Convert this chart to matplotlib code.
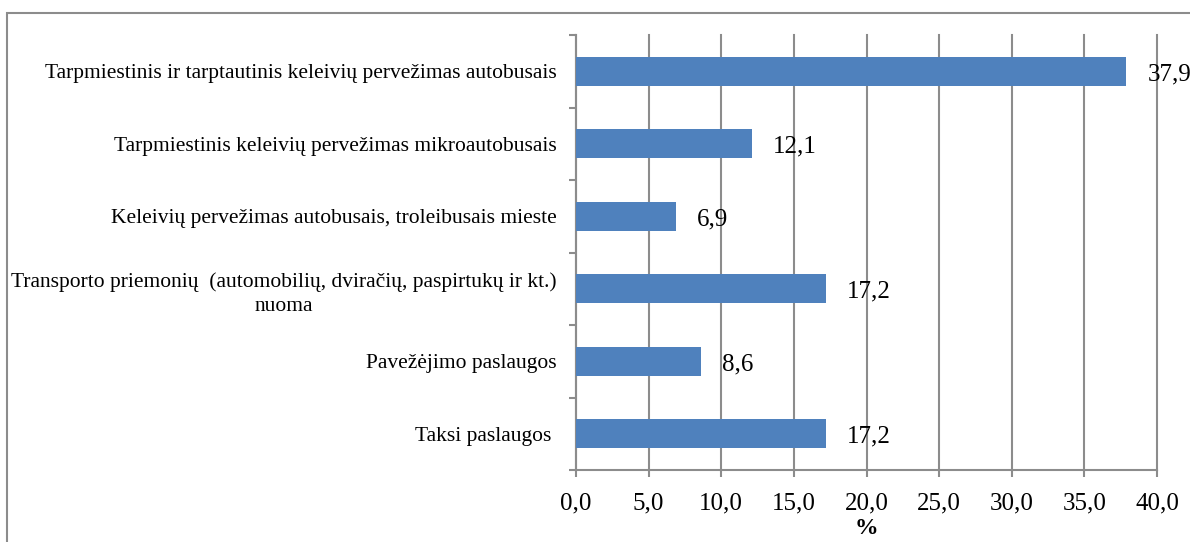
import numpy as np
import matplotlib.pyplot as plt
from matplotlib.patches import Rectangle

kategorijos = [
    "Tarpmiestinis ir tarptautinis keleivių pervežimas autobusais",
    "Tarpmiestinis keleivių pervežimas mikroautobusais",
    "Keleivių pervežimas autobusais, troleibusais mieste",
    "Transporto priemonių  (automobilių, dviračių, paspirtukų ir kt.)\nnuoma",
    "Pavežėjimo paslaugos",
    "Taksi paslaugos ",
]
reiksmes = [37.9, 12.1, 6.9, 17.2, 8.6, 17.2]
x_zymes = np.arange(0, 45, 5)

plt.rcParams['font.family'] = ['Liberation Serif', 'DejaVu Serif']

fig = plt.figure(figsize=(11.9, 5.42), dpi=100)
ax = fig.add_axes([576/1190, 1-470/542, (1157-576)/1190, (470-35)/542])

# remelis aplink diagrama
fig.patches.append(Rectangle((7/1190, -0.1), 1.2, (542-13)/542 + 0.1,
                             transform=fig.transFigure, fill=False,
                             edgecolor='#8c8c8c', linewidth=1.5, zorder=0))

y = np.arange(len(kategorijos))[::-1]
ax.barh(y, reiksmes, height=0.4, color='#4F81BD', zorder=3)

for yi, v in zip(y, reiksmes):
    ax.annotate(f"{v:.1f}".replace('.', ','), (v, yi), xytext=(15, -2),
                textcoords='offset points', va='center', ha='left', fontsize=18)

ax.set_xlim(0, 40)
ax.set_ylim(-0.5, len(kategorijos) - 0.5)
ax.set_xticks(x_zymes)
ax.set_xticklabels([f"{v:.1f}".replace('.', ',') for v in x_zymes], fontsize=18)
ax.set_yticks(y)
ax.set_yticklabels(kategorijos, fontsize=15.5, multialignment='center',
                   linespacing=1.35)
ax.set_yticks(np.arange(-0.5, len(kategorijos)), minor=True)
ax.tick_params(axis='y', which='major', length=0, pad=14)
ax.tick_params(axis='y', which='minor', length=5, color='#8c8c8c', width=1.5)
ax.tick_params(axis='x', length=5, color='#8c8c8c', width=1.5, pad=11)
ax.set_xlabel('%', fontsize=17, fontweight='bold', labelpad=3)

ax.grid(axis='x', color='#8c8c8c', linewidth=1.5, zorder=0)
for gl in ax.get_xgridlines():
    gl.set_clip_on(False)
ax.set_axisbelow(True)
for s in ['top', 'right']:
    ax.spines[s].set_visible(False)
for s in ['left', 'bottom']:
    ax.spines[s].set_color('#8c8c8c')
    ax.spines[s].set_linewidth(1.5)

fig.savefig('out.png', dpi=100)
